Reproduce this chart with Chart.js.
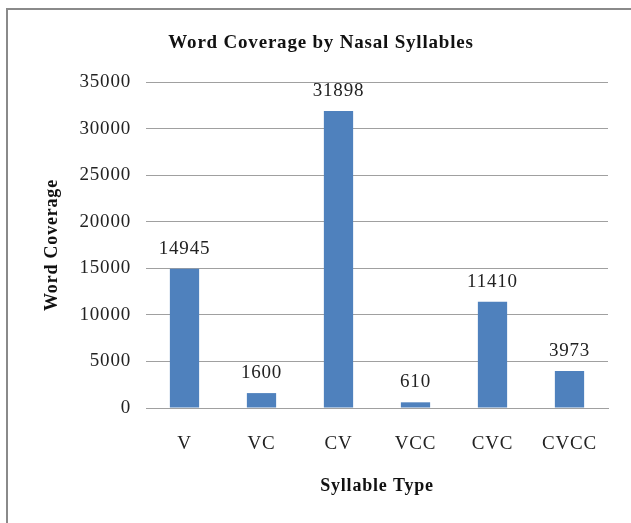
<!DOCTYPE html>
<html>
<head>
<meta charset="utf-8">
<script src="https://cdn.jsdelivr.net/npm/chart.js@4"></script>
<style>
    html, body { margin: 0; padding: 0; background: #fff; }
    #wrap { position: relative; width: 631px; height: 523px; overflow: hidden; }
    #frame {
        position: absolute; left: 6px; top: 8px; width: 700px; height: 600px;
        border-left: 2px solid #8a8a8a; border-top: 2px solid #8a8a8a;
    }
    #chart { position: absolute; left: 0; top: 0; }
</style>
</head>
<body>
<div id="wrap">
    <div id="frame"></div>
    <canvas id="chart" width="631" height="523"></canvas>
</div>
<script>
// 数据
const categories = ['V', 'VC', 'CV', 'VCC', 'CVC', 'CVCC'];
const wordCoverage = [14945, 1600, 31898, 610, 11410, 3973];
const yMax = 35000;
const yStep = 5000;

const serif = '"Liberation Serif", "Times New Roman", serif';

// 原图文字字距略宽
const spacing = {
    id: 'spacing',
    beforeInit(chart) { chart.ctx.letterSpacing = '0.8px'; },
    beforeLayout(chart) { chart.ctx.letterSpacing = '0.8px'; },
    beforeDraw(chart) { chart.ctx.letterSpacing = '0.8px'; }
};

// 柱顶数值标签
const valueLabels = {
    id: 'valueLabels',
    afterDatasetsDraw(chart) {
        const ctx = chart.ctx;
        const meta = chart.getDatasetMeta(0);
        ctx.save();
        ctx.font = '19px ' + serif;
        ctx.fillStyle = '#222';
        ctx.textAlign = 'center';
        ctx.textBaseline = 'middle';
        meta.data.forEach((bar, i) => {
            ctx.fillText(String(wordCoverage[i]), bar.x, bar.y - 20);
        });
        ctx.restore();
    }
};

new Chart(document.getElementById('chart').getContext('2d'), {
    type: 'bar',
    data: {
        labels: categories,
        datasets: [{
            data: wordCoverage,
            backgroundColor: '#4F81BD',
            borderWidth: 0,
            categoryPercentage: 1,
            barPercentage: 0.38
        }]
    },
    options: {
        responsive: false,
        animation: false,
        layout: { padding: { left: 34, right: 23, top: 0, bottom: 0 } },
        scales: {
            y: {
                min: 0,
                max: yMax,
                afterFit(scale) { scale.width = 112; },
                ticks: {
                    stepSize: yStep,
                    padding: 15,
                    color: '#222',
                    font: { family: serif, size: 19 },
                    callback: v => String(v)
                },
                grid: { color: '#a0a0a0', drawTicks: false },
                border: { display: false },
                title: {
                    display: true,
                    text: 'Word Coverage',
                    color: '#111',
                    font: { family: serif, size: 18, weight: 'bold' },
                    padding: { top: 7.2, bottom: 0 }
                }
            },
            x: {
                afterFit(scale) { scale.height = 115; },
                ticks: {
                    padding: 24.6,
                    color: '#222',
                    font: { family: serif, size: 19 }
                },
                grid: { display: false, drawTicks: false },
                border: { display: true, color: '#a0a0a0' },
                title: {
                    display: true,
                    text: 'Syllable Type',
                    color: '#111',
                    font: { family: serif, size: 18, weight: 'bold' },
                    padding: { top: 19.8, bottom: 26.2 }
                }
            }
        },
        plugins: {
            legend: { display: false },
            tooltip: { enabled: false },
            title: {
                display: true,
                text: 'Word Coverage by Nasal Syllables',
                color: '#111',
                font: { family: serif, size: 19, weight: 'bold' },
                padding: { top: 31.6, bottom: 27.6 }
            }
        }
    },
    plugins: [spacing, valueLabels]
});
</script>
</body>
</html>
